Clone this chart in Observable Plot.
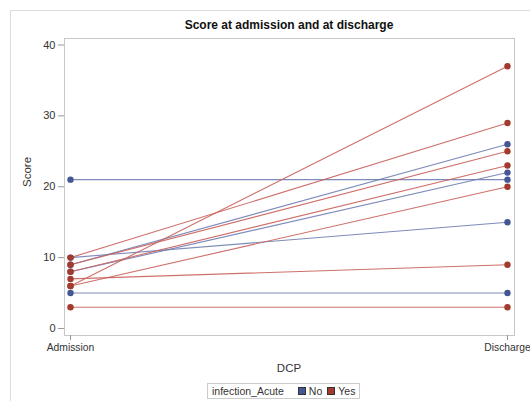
<!DOCTYPE html>
<html>
<head>
<meta charset="utf-8">
<script src="https://cdn.jsdelivr.net/npm/d3@7"></script>
<script src="https://cdn.jsdelivr.net/npm/@observablehq/plot@0.6"></script>
<style>
  html, body { margin: 0; padding: 0; background: #fff; }
  #wrap { position: relative; width: 530px; height: 401px; overflow: hidden; font-family: "Liberation Sans", Arial, sans-serif; }
  #border { position: absolute; left: 10px; top: 10px; width: 540px; height: 420px; border: 1px solid #dcdcdc; box-sizing: border-box; }
  #title { position: absolute; left: 64px; width: 450px; top: 18px; text-align: center; font-weight: bold; font-size: 12px; color: #111; }
  #xlabel { position: absolute; left: 64px; width: 450px; top: 362px; text-align: center; font-size: 11.5px; color: #333; }
  #legend { position: absolute; left: 207px; top: 383px; height: 16px; border: 1px solid #ccc; box-sizing: border-box; font-size: 10.5px; color: #333; display: flex; align-items: center; padding: 0 4px; gap: 4px; white-space: nowrap; }
  .sw { display: inline-block; width: 8px; height: 8px; border: 1px solid #333; box-sizing: border-box; margin-right: 3px; }
  #chart { position: absolute; left: 0; top: 0; }
</style>
</head>
<body>
<div id="wrap">
  <div id="border"></div>
  <div id="chart"></div>
  <div id="title">Score at admission and at discharge</div>
  <div id="xlabel">DCP</div>
  <div id="legend"><span>infection_Acute</span><span style="margin-left:10px"><span class="sw" style="background:#445694"></span>No</span><span style="margin-left:1px"><span class="sw" style="background:#A23A2E"></span>Yes</span></div>
</div>
<script>
const timepoints = ["Admission", "Discharge"];
const subjects  = ["p1","p2","p3","p4","p5","p6","p7","p8","p9","p10","p11","p12"];
const infection = ["No","No","No","No","No","Yes","Yes","Yes","Yes","Yes","Yes","Yes"];
const admission = [21, 5, 10, 8, 9, 3, 7, 6, 10, 9, 8, 6];
const discharge = [21, 5, 15, 22, 26, 3, 9, 37, 29, 25, 23, 20];
const yTicks = [0, 10, 20, 30, 40];

const rows = [];
subjects.forEach((s, i) => {
  rows.push({id: s, dcp: timepoints[0], score: admission[i], inf: infection[i]});
  rows.push({id: s, dcp: timepoints[1], score: discharge[i], inf: infection[i]});
});

const lineColor = {No: "#6F7EB3", Yes: "#C9605A"};
const dotColor = {No: "#445694", Yes: "#A23A2E"};

const chart = Plot.plot({
  width: 530,
  height: 401,
  marginTop: 38,
  marginBottom: 66,
  marginLeft: 64,
  marginRight: 16,
  style: {fontFamily: "'Liberation Sans', Arial, sans-serif", fontSize: "11px", color: "#333", background: "transparent", overflow: "visible"},
  x: {type: "point", domain: timepoints, padding: 0, insetLeft: 6, insetRight: 7, label: null},
  y: {domain: [-0.99, 40.92], label: null},
  marks: [
    Plot.frame({stroke: "#c8c8c8"}),
    Plot.axisY({ticks: yTicks, tickSize: 6, tickPadding: 3, stroke: "#999", fill: "#333", fontSize: 11}),
    Plot.axisX({tickSize: 5, tickPadding: 3, stroke: "#999", fill: "#333", fontSize: 10.3}),
    Plot.line(rows, {x: "dcp", y: "score", z: "id", stroke: d => lineColor[d.inf], strokeWidth: 1.1, strokeOpacity: 0.9}),
    Plot.dot(rows, {x: "dcp", y: "score", fill: d => dotColor[d.inf], r: 3.2}),
    Plot.text(["Score"], {frameAnchor: "left", dx: -37, rotate: -90, fontSize: 11.5, fill: "#333"})
  ]
});
document.getElementById("chart").appendChild(chart);
</script>
</body>
</html>
